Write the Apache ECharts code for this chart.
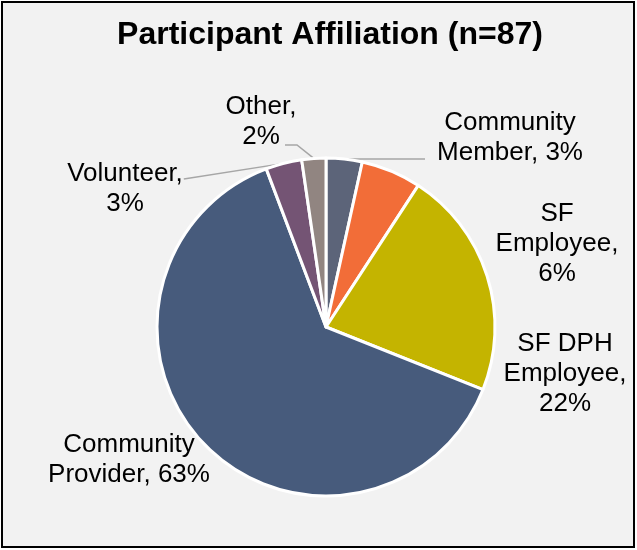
<!DOCTYPE html>
<html>
<head>
<meta charset="utf-8">
<script src="https://cdn.jsdelivr.net/npm/echarts@6/dist/echarts.min.js"></script>
<style>
html,body{margin:0;padding:0;background:#fff;}
#c{width:637px;height:550px;}
</style>
</head>
<body>
<div id="c"></div>
<script>
// Data
const categories = ['Community Member', 'SF Employee', 'SF DPH Employee', 'Community Provider', 'Volunteer', 'Other'];
const counts = [3, 5, 19, 55, 3, 2]; // n = 87
const labelTemplates = ['Community\nMember, {p}%', 'SF\nEmployee,\n{p}%', 'SF DPH\nEmployee,\n{p}%', 'Community\nProvider, {p}%', 'Volunteer,\n{p}%', 'Other,\n{p}%'];
const colors = ['#5c6479', '#f26d38', '#c4b400', '#475b7c', '#745474', '#918581'];
const showLine = [true, false, false, false, true, true];
// label anchor positions (label placement only)
const labelPos = [[510, 138], [557, 244], [565, 374], [129, 460], [125, 189], [261, 122]];

const total = counts.reduce((a, b) => a + b, 0);
const data = categories.map((c, i) => ({
  name: c,
  value: counts[i],
  itemStyle: { color: colors[i] },
  labelLine: { show: showLine[i] }
}));

function leader(i, start, lx, ly, w) {
  if (i === 0) return [start, [lx - w / 2 - 12, start[1]]];
  if (i === 4) return [start, [lx + w / 2 + 1, ly - 10]];
  if (i === 5) return [start, [lx + 36, ly + 23], [lx + 24, ly + 23]];
  return undefined;
}

const chart = echarts.init(document.getElementById('c'));
chart.setOption({
  animation: false,
  graphic: [{
    type: 'rect',
    shape: { x: 2, y: 2, width: 632, height: 545 },
    style: { fill: '#f2f2f2', stroke: '#000', lineWidth: 2 },
    z: -10
  }],
  title: {
    text: 'Participant Affiliation (n=87)',
    left: 325,
    textAlign: 'center',
    top: 14,
    textStyle: { fontFamily: 'Liberation Sans', fontWeight: 'bold', fontSize: 32, color: '#000' }
  },
  series: [{
    type: 'pie',
    center: [326, 327],
    radius: [0, 169],
    startAngle: 90,
    clockwise: true,
    data: data,
    itemStyle: { borderColor: '#fff', borderWidth: 3 },
    emphasis: { disabled: true },
    label: {
      show: true,
      position: 'outside',
      alignTo: 'none',
      overflow: 'none',
      edgeDistance: 0,
      fontFamily: 'Liberation Sans',
      fontSize: 26,
      lineHeight: 30,
      color: '#000',
      align: 'center',
      formatter: p => labelTemplates[p.dataIndex].replace('{p}', Math.round(p.value / total * 100))
    },
    labelLine: { lineStyle: { color: '#a6a6a6', width: 1.5 }, length: 10, length2: 10 },
    labelLayout: p => {
      const i = p.dataIndex;
      const lx = labelPos[i][0], ly = labelPos[i][1];
      const res = { x: lx, y: ly, align: 'center', verticalAlign: 'middle' };
      if (showLine[i] && p.labelLinePoints) {
        const s = p.labelLinePoints[0];
        res.labelLinePoints = leader(i, [s[0], s[1]], lx, ly, p.labelRect.width);
      }
      return res;
    }
  }]
});
</script>
</body>
</html>
